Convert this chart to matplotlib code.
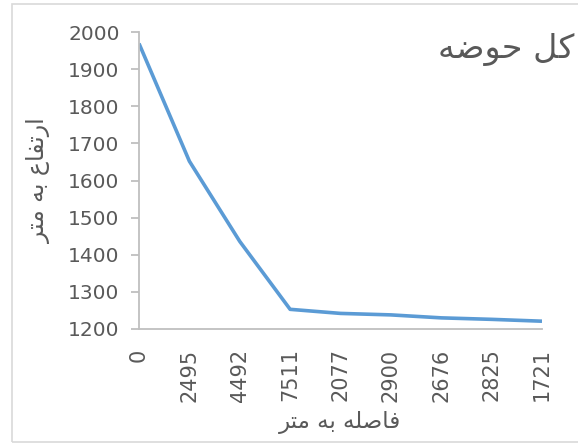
import matplotlib
matplotlib.use("Agg")
import matplotlib.pyplot as plt
from matplotlib.patches import Rectangle


# ----------------------------
# Data
# ----------------------------

# distance labels (m) as shown on the category axis
distances = ["0", "2495", "4492", "7511", "2077", "2900", "2676", "2825", "1721"]
# elevation (m)
elevations = [1969, 1652, 1436, 1253, 1242, 1238, 1230, 1226, 1221]

# Persian text, pre-shaped into presentation forms and put in visual order
# (matplotlib has no bidi / arabic shaping of its own)
title_text = "\uFEEA\uFEBF\uFEEE\uFEA3 \uFEDE\uFEDB"          # کل حوضه
ylabel_text = "\uFEAE\uFE98\uFEE3 \uFEEA\uFE91 \uFEC9\uFE8E\uFED4\uFE97\uFEAD\uFE8D"  # ارتفاع به متر
xlabel_text = "\uFEAE\uFE98\uFEE3 \uFEEA\uFE91 \uFEEA\uFEE0\uFEBB\uFE8E\uFED3"       # فاصله به متر

# ----------------------------
# Style
# ----------------------------

plt.rcParams["font.family"] = ["DejaVu Sans"]
TEXT_GRAY = "#595959"
AXIS_GRAY = "#bfbfbf"
LINE_BLUE = "#5b9bd5"

W, H = 578, 443
fig = plt.figure(figsize=(W / 100, H / 100), dpi=100)

# chart frame (cut off on the right in the original screenshot)
fig.patches.append(Rectangle((12 / W, 1 - 442 / H), (W + 20) / W, 438 / H,
                             transform=fig.transFigure, fill=False,
                             edgecolor="#d9d9d9", linewidth=1.2))

left, right, top, bottom = 139, 542, 32, 329
ax = fig.add_axes([left / W, 1 - bottom / H, (right - left) / W, (bottom - top) / H])

x = list(range(len(distances)))
ax.plot(x, elevations, color=LINE_BLUE, linewidth=2.6, solid_capstyle="butt")

ax.set_xlim(0, len(distances) - 1)
ax.set_ylim(1200, 2000)
ax.set_yticks(range(1200, 2001, 100))
ax.set_xticks(x)
ax.set_xticklabels(distances, rotation=90)

for side in ("top", "right"):
    ax.spines[side].set_visible(False)
for side in ("left", "bottom"):
    ax.spines[side].set_color(AXIS_GRAY)
    ax.spines[side].set_linewidth(1.3)

ax.tick_params(axis="y", direction="out", length=6, width=1.3, color=AXIS_GRAY,
               labelsize=14.5, labelcolor=TEXT_GRAY, pad=8)
ax.tick_params(axis="x", length=0, labelsize=15, labelcolor=TEXT_GRAY, pad=14)

ax.set_xlabel(xlabel_text, fontsize=16.5, color=TEXT_GRAY, labelpad=7)
ax.set_ylabel(ylabel_text, fontsize=17, color=TEXT_GRAY, labelpad=12)

fig.text(574 / W, 1 - 50 / H, title_text, fontsize=24, color=TEXT_GRAY,
         ha="right", va="center")

fig.savefig("out.png", dpi=100)
